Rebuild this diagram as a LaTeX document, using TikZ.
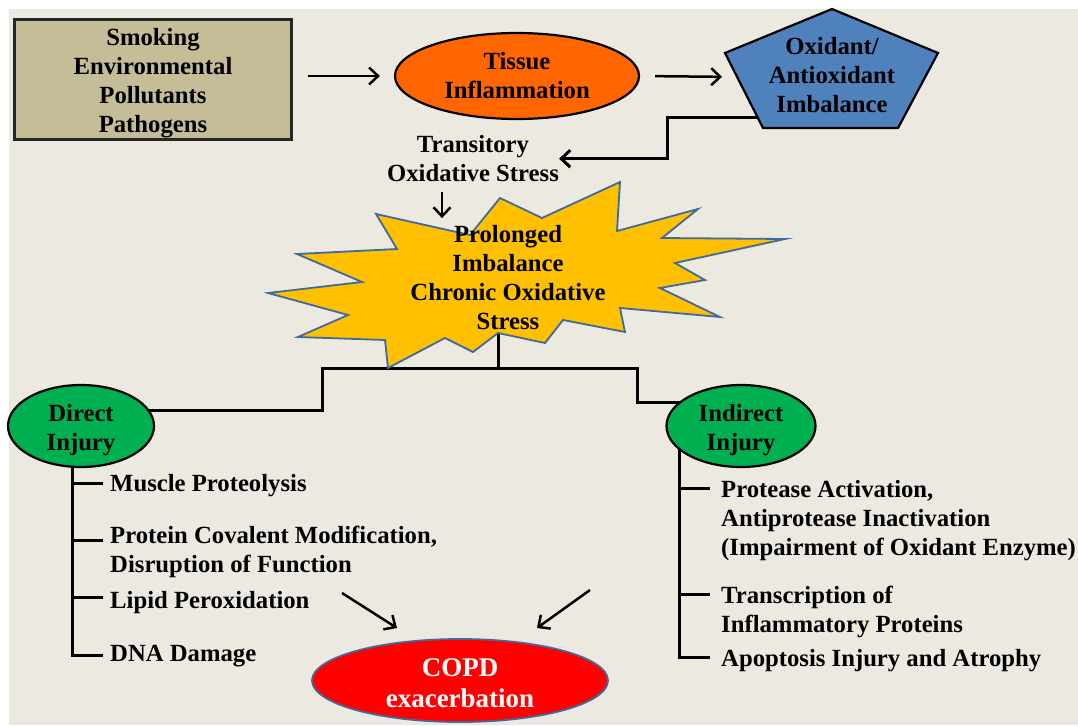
\documentclass[tikz,border=0pt]{standalone}
\usepackage{fontspec}
\setmainfont{Liberation Serif}
\usetikzlibrary{shapes.geometric,arrows.meta}
\definecolor{bgc}{HTML}{ECEAE0}
\definecolor{tanc}{HTML}{C4BD97}
\definecolor{orangec}{HTML}{FF6600}
\definecolor{bluec}{HTML}{4F81BD}
\definecolor{starc}{HTML}{FFC000}
\definecolor{outlc}{HTML}{3F6A9C}
\definecolor{greenc}{HTML}{00B050}
\definecolor{redc}{HTML}{FF0000}
\newcommand\dfont{\bfseries\fontsize{24.7}{29}\selectfont}
\newcommand\cfont{\bfseries\fontsize{27}{31}\selectfont}
\pgfdeclarelayer{back}
\pgfdeclarelayer{conn}
\pgfsetlayers{back,conn,main}
\begin{document}
\begin{tikzpicture}[x=1pt,y=-1pt,
  txt/.style={font=\dfont, inner sep=0pt, align=center, text=black},
  item/.style={font=\dfont, inner sep=0pt, align=left, anchor=north west, text=black},
  conn/.style={line width=3pt, draw=black},
  tip/.style={-{Straight Barb[length=9pt,width=17pt]}},
  arr/.style={line width=2.5pt, draw=black, tip},
  oval/.style={ellipse, inner sep=0pt, draw=black, line width=2.2pt}]
\useasboundingbox (0,0) rectangle (1078,725);
\begin{pgfonlayer}{back}
  \fill[white] (0,0) rectangle (1078,725);
  \fill[bgc] (9,9) rectangle (1078,725);
\end{pgfonlayer}

% top row
\node[draw=black!85, line width=3.5pt, fill=tanc, minimum width=277pt, minimum height=120pt, inner sep=0pt] (box) at (153,79.5) {};
\node[txt] (boxt) at (153,82.7) {Smoking\\Environmental\\Pollutants\\Pathogens};

\node[oval, fill=orangec, minimum width=244pt, minimum height=86pt, font=\dfont, align=center] (tis) at (517,76) {Tissue\\Inflammation};

\coordinate (pT) at (832,9);
\coordinate (pR) at (938,53);
\coordinate (pBR) at (898,128);
\coordinate (pBL) at (763,128);
\coordinate (pL) at (725,53);
\coordinate (pW) at (737,77);
\coordinate (pC) at (757,117);
\draw[fill=bluec, line width=2.2pt, line join=miter] (pT) -- (pR) -- (pBR) -- (pBL) -- (pL) -- cycle;
\node[txt] (oxi) at (832,75.2) {Oxidant/\\Antioxidant\\Imbalance};

\node[txt] (tos) at (473,158.7) {Transitory\\Oxidative Stress};

% star
\coordinate (sb) at (498,333);
\draw[fill=starc, draw=outlc, line width=1.8pt, line join=miter]
  (268,293) -- (362,282) -- (297,254) -- (397,249) -- (376,214) -- (470,235)
  -- (500,198) -- (542,218) -- (620,182) -- (617,231) -- (698,209) -- (662,238)
  -- (785,239) -- (675,263) -- (705,280) -- (660,288) -- (720,317) -- (620,308)
  -- (625,332) -- (563,320) -- (545,343) -- (sb) -- (473,352) -- (445,338)
  -- (388,368) -- (385,340) -- (298,337) -- (348,315) -- cycle;
\node[txt] (pst) at (508,278) {Prolonged\\Imbalance\\Chronic Oxidative\\Stress};

% injuries
\node[oval, fill=greenc, minimum width=146pt, minimum height=82pt] (dir) at (81,426) {};
\node[txt] (dirt) at (81,430.3) {Direct\\Injury};
\node[oval, fill=greenc, minimum width=149pt, minimum height=82pt] (ind) at (741,426) {};
\node[txt] (indt) at (741,430.3) {Indirect\\Injury};

\node[item] (m1) at (110,474.5) {Muscle Proteolysis};
\node[item] (m2) at (110,526.2) {Protein Covalent Modification,\\Disruption of Function};
\node[item] (m3) at (110,591.2) {Lipid Peroxidation};
\node[item] (m4) at (110,644.5) {DNA Damage};

\node[item] (i1) at (721,480.2) {Protease Activation,\\Antiprotease Inactivation\\(Impairment of Oxidant Enzyme)};
\node[item] (i2) at (721,585.5) {Transcription of\\Inflammatory Proteins};
\node[item] (i3) at (721,648.8) {Apoptosis Injury and Atrophy};

% COPD
\node[ellipse, inner sep=0pt, fill=redc, draw=outlc, line width=1.8pt, minimum width=296pt, minimum height=83pt] (copd) at (460,680.5) {};
\node[font=\cfont, inner sep=0pt, align=center, text=white] (copdt) at (460,683.3) {COPD\\exacerbation};

% connectors
\begin{pgfonlayer}{conn}
  \draw[arr, shorten <=15pt, shorten >=14pt] (box.east |- tis.west) -- (tis.west);
  \draw[arr, shorten <=15pt, shorten >=15pt] (tis.east) -- (pW);
  \draw[conn, tip] (pC) -- ++(-90,0) |- (tos.east);
  \draw[arr] ([xshift=-31pt,yshift=-10pt]tos.south) -- ++(0,26);

  \coordinate (hub) at (498,368);
  \coordinate (dk) at (322,410);
  \coordinate (ik) at (637,402);
  \draw[conn] (sb) -- (hub) -| (dk) -- (dir.center |- dk);
  \draw[conn] (hub) -| (ik) -- (ind.center |- ik);

  \coordinate (dt) at (72,426);
  \coordinate (d1) at (103,483);
  \coordinate (d2) at (103,540);
  \coordinate (d3) at (103,597);
  \coordinate (d4) at (103,655);
  \draw[conn] (dt) |- (d4);
  \foreach \b in {d1,d2,d3} \draw[conn] (\b -| dt) -- (\b);

  \coordinate (it) at (679,426);
  \coordinate (j1) at (710,488);
  \coordinate (j2) at (710,594);
  \coordinate (j3) at (710,657);
  \draw[conn] (it) |- (j3);
  \foreach \b in {j1,j2} \draw[conn] (\b -| it) -- (\b);

  \coordinate (la) at (342,593);
  \coordinate (lb) at (397,628);
  \coordinate (ra) at (590,590);
  \coordinate (rb) at (537,628);
  \draw[arr] (la) -- (lb);
  \draw[arr] (ra) -- (rb);
\end{pgfonlayer}
\end{tikzpicture}
\end{document}
